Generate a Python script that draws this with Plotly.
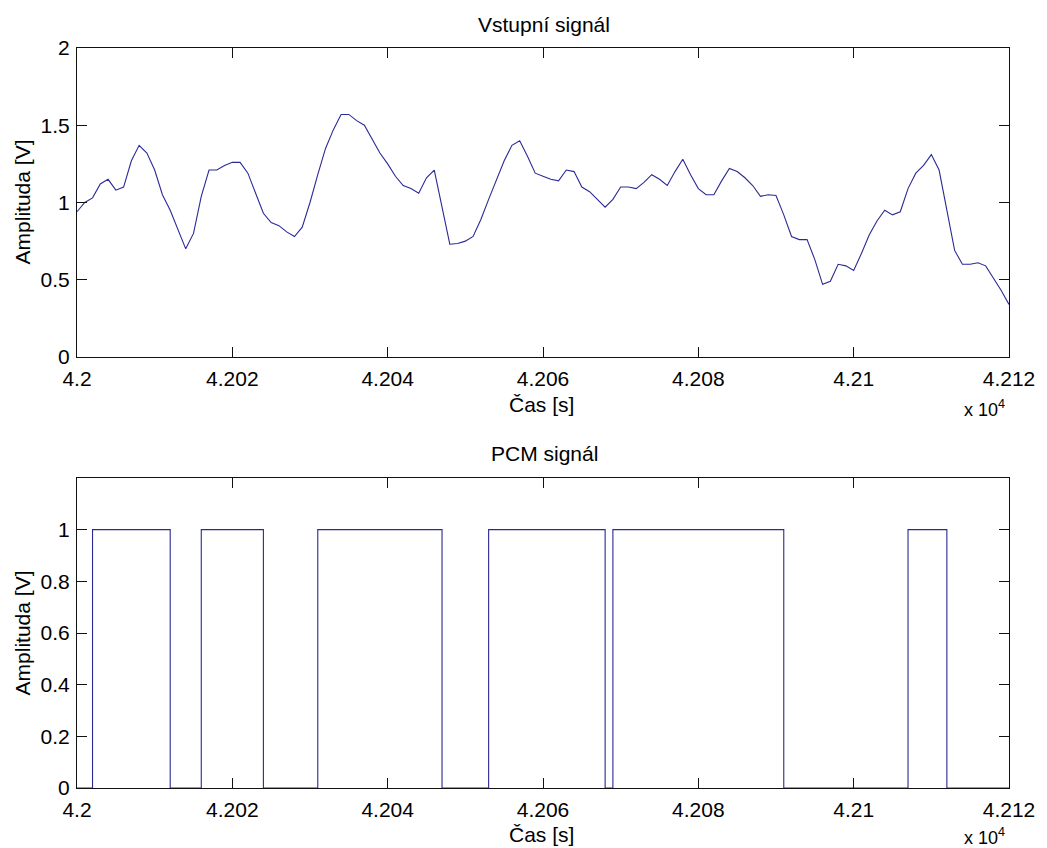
import plotly.graph_objects as go
from plotly.subplots import make_subplots

# Time axis: one sample per second, 42000 .. 42120 s
t_start = 42000
n_samples = 121
time_s = [t_start + k for k in range(n_samples)]

# Input signal amplitude [V]
signal_v = [
    0.94, 1.00, 1.03, 1.12, 1.15, 1.08, 1.10, 1.27, 1.37, 1.32,
    1.21, 1.05, 0.95, 0.82, 0.70, 0.80, 1.04, 1.21, 1.21, 1.24,
    1.26, 1.26, 1.19, 1.06, 0.93, 0.87, 0.85, 0.81, 0.78, 0.84,
    1.00, 1.18, 1.35, 1.47, 1.57, 1.57, 1.53, 1.50, 1.41, 1.32,
    1.25, 1.17, 1.11, 1.09, 1.06, 1.16, 1.21, 0.97, 0.73, 0.735,
    0.75, 0.78, 0.89, 1.02, 1.14, 1.27, 1.37, 1.40, 1.30, 1.19,
    1.17, 1.15, 1.14, 1.21, 1.20, 1.10, 1.07, 1.02, 0.97, 1.02,
    1.10, 1.10, 1.09, 1.13, 1.18, 1.15, 1.11, 1.20, 1.28, 1.18,
    1.09, 1.05, 1.05, 1.14, 1.22, 1.20, 1.16, 1.11, 1.04, 1.05,
    1.045, 0.92, 0.78, 0.76, 0.76, 0.63, 0.47, 0.49, 0.60, 0.59,
    0.56, 0.67, 0.79, 0.88, 0.95, 0.92, 0.94, 1.09, 1.19, 1.24,
    1.31, 1.21, 0.94, 0.69, 0.60, 0.60, 0.61, 0.59, 0.51, 0.43,
    0.34,
]

# PCM bit stream (one bit per sample)
pcm_bits = [
    0, 0,
    1, 1, 1, 1, 1, 1, 1, 1, 1, 1,
    0, 0, 0, 0,
    1, 1, 1, 1, 1, 1, 1, 1,
    0, 0, 0, 0, 0, 0, 0,
    1, 1, 1, 1, 1, 1, 1, 1, 1, 1, 1, 1, 1, 1, 1, 1,
    0, 0, 0, 0, 0, 0,
    1, 1, 1, 1, 1, 1, 1, 1, 1, 1, 1, 1, 1, 1, 1,
    0,
    1, 1, 1, 1, 1, 1, 1, 1, 1, 1, 1, 1, 1, 1, 1, 1, 1, 1, 1, 1, 1, 1,
    0, 0, 0, 0, 0, 0, 0, 0, 0, 0, 0, 0, 0, 0, 0, 0,
    1, 1, 1, 1, 1,
    0, 0, 0, 0, 0, 0, 0, 0, 0,
]

# Tick positions and labels (time shown scaled by 10^4)
x_tickvals = [42000, 42020, 42040, 42060, 42080, 42100, 42120]
x_ticktext = ["4.2", "4.202", "4.204", "4.206", "4.208", "4.21", "4.212"]
y1_tickvals = [0, 0.5, 1, 1.5, 2]
y1_ticktext = ["0", "0.5", "1", "1.5", "2"]
y2_tickvals = [0, 0.2, 0.4, 0.6, 0.8, 1]
y2_ticktext = ["0", "0.2", "0.4", "0.6", "0.8", "1"]

LINE_COLOR = "#2a2a96"
FONT = "Liberation Sans, Arial, sans-serif"
FS = 21

W, H = 1047, 848
ML, MR, MT, MB = 77, 31, 48, 60
PW, PH = W - ML - MR, H - MT - MB

fig = make_subplots(rows=2, cols=1, vertical_spacing=0.0)

fig.add_trace(go.Scatter(x=time_s, y=signal_v, mode="lines",
                         line=dict(color=LINE_COLOR, width=1.1),
                         showlegend=False), row=1, col=1)
fig.add_trace(go.Scatter(x=time_s, y=pcm_bits, mode="lines",
                         line=dict(color=LINE_COLOR, width=1.1, shape="hv"),
                         showlegend=False), row=2, col=1)

axis_common = dict(
    showline=True, linecolor="#111111", linewidth=1, mirror="ticks",
    ticks="inside", ticklen=10, tickwidth=1, tickcolor="#111111",
    showgrid=False, zeroline=False,
    tickfont=dict(family=FONT, size=FS, color="black"),
)

def py2paper(py):
    return (H - MB - py) / PH

def px2paper(px):
    return (px - ML) / PW

fig.update_xaxes(range=[42000, 42120], tickvals=x_tickvals, ticktext=x_ticktext,
                 ticklabelstandoff=3, **axis_common)
fig.update_yaxes(ticklabelstandoff=2, **axis_common)

fig.update_layout(
    xaxis=dict(domain=[0, 1]),
    xaxis2=dict(domain=[0, 1]),
    yaxis=dict(domain=[py2paper(357), py2paper(48)], range=[0, 2],
               tickvals=y1_tickvals, ticktext=y1_ticktext),
    yaxis2=dict(domain=[py2paper(788), py2paper(478)], range=[0, 1.2],
                tickvals=y2_tickvals, ticktext=y2_ticktext),
)

def label(text, px, py, angle=0, xanchor="center", size=FS):
    fig.add_annotation(text=text, x=px2paper(px), y=py2paper(py),
                       xref="paper", yref="paper", showarrow=False,
                       xanchor=xanchor, yanchor="middle", textangle=angle,
                       font=dict(family=FONT, size=size, color="black"))

# Panel titles
label("Vstupní signál", 548, 25)
label("PCM signál", 548, 453)
# Axis titles
label("Čas [s]", 545, 404)
label("Čas [s]", 545, 834)
label("Amplituda [V]", 22, 202, angle=-90)
label("Amplituda [V]", 22, 633, angle=-90)
# Axis exponent markers
label("x 10<sup>4</sup>", 1014, 408, xanchor="right", size=18)
label("x 10<sup>4</sup>", 1014, 836, xanchor="right", size=18)

fig.update_layout(
    width=W, height=H,
    margin=dict(l=ML, r=MR, t=MT, b=MB, pad=0),
    paper_bgcolor="white", plot_bgcolor="white",
    font=dict(family=FONT, size=FS, color="black"),
    showlegend=False,
)

fig.write_html("out.html")
